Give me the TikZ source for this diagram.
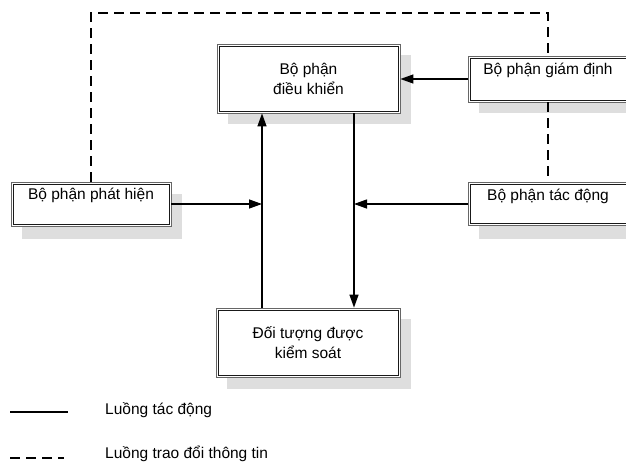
\documentclass[tikz,border=0pt]{standalone}
\usepackage{fontspec}
\setmainfont{Liberation Sans}
\usetikzlibrary{arrows.meta,calc}
\newcommand\innerframe[1]{\draw[innerline] ([shift={(2.3,2.3)}]#1.north west) rectangle ([shift={(-2.3,-2.3)}]#1.south east);}
\begin{document}
\begin{tikzpicture}[x=1pt,y=-1pt,
  font=\fontsize{15.5}{20}\selectfont,
  box/.style={draw=black!60, line width=0.8pt, fill=white, inner sep=0pt, outer sep=0.4pt, rectangle},
  innerline/.style={draw=black!90, line width=0.8pt},
  shadowbox/.style={fill=black!13, draw=none},
  flow/.style={line width=1.3pt, -{Triangle[length=13pt,width=9pt]}},
  info/.style={line width=1.3pt, dash pattern=on 10pt off 6pt},
  lbl/.style={inner sep=0pt, align=center}]
\useasboundingbox (0,0) rectangle (626,463);
% shadows
\fill[shadowbox] (228,55) rectangle (411,124);
\fill[shadowbox] (479,67) rectangle (640,113);
\fill[shadowbox] (479,194) rectangle (640,239);
\fill[shadowbox] (22,194) rectangle (182,239);
\fill[shadowbox] (227,319) rectangle (411,389);
% boxes
\node[box, minimum width=183pt, minimum height=69pt] (ctrl) at (308.5,78.5) {};
\innerframe{ctrl}
\node[lbl] (ctrlt) at (ctrl.center) {Bộ phận\\điều khiển};
\node[box, minimum width=160pt, minimum height=46pt] (gd) at (548,79) {};
\innerframe{gd}
\node[lbl] (gdt) at (548,70) {Bộ phận giám định};
\node[box, minimum width=160pt, minimum height=43pt] (td) at (548,204) {};
\innerframe{td}
\node[lbl] (tdt) at (548,196) {Bộ phận tác động};
\node[box, minimum width=160pt, minimum height=44pt] (ph) at (91,204) {};
\innerframe{ph}
\node[lbl] (pht) at (91,195) {Bộ phận phát hiện};
\node[box, minimum width=184pt, minimum height=69pt] (dt) at (308,342.5) {};
\innerframe{dt}
\node[lbl] (dtt) at (dt.center) {Đối tượng được\\kiểm soát};
% connector guides
\coordinate (upx) at (262,0);
\coordinate (dnx) at (354,0);
\coordinate (top) at (300,13);
% solid flows
\draw[flow] (dt.north -| upx) -- (ctrl.south -| upx);
\draw[flow] (ctrl.south -| dnx) -- (dt.north -| dnx);
\draw[flow] (ph.east) -- (ph.east -| upx);
\draw[flow] (td.west) -- (td.west -| dnx);
\draw[flow] (gd.west) -- (gd.west -| ctrl.east);
% information flows
\draw[info] (ph.north) |- (top) -| (gd.north);
\draw[info] (gd.south) -- (td.north);
% legend
\coordinate (l1a) at (10,412);
\coordinate (l1b) at (68,412);
\coordinate (l2a) at (10,458);
\coordinate (l2b) at (64,458);
\draw[line width=1.3pt] (l1a) -- (l1b);
\draw[info] (l2a) -- (l2b);
\node[lbl, anchor=west] (lg1) at (105,410) {Luồng tác động};
\node[lbl, anchor=west] (lg2) at (105,454) {Luồng trao đổi thông tin};
\end{tikzpicture}
\end{document}
